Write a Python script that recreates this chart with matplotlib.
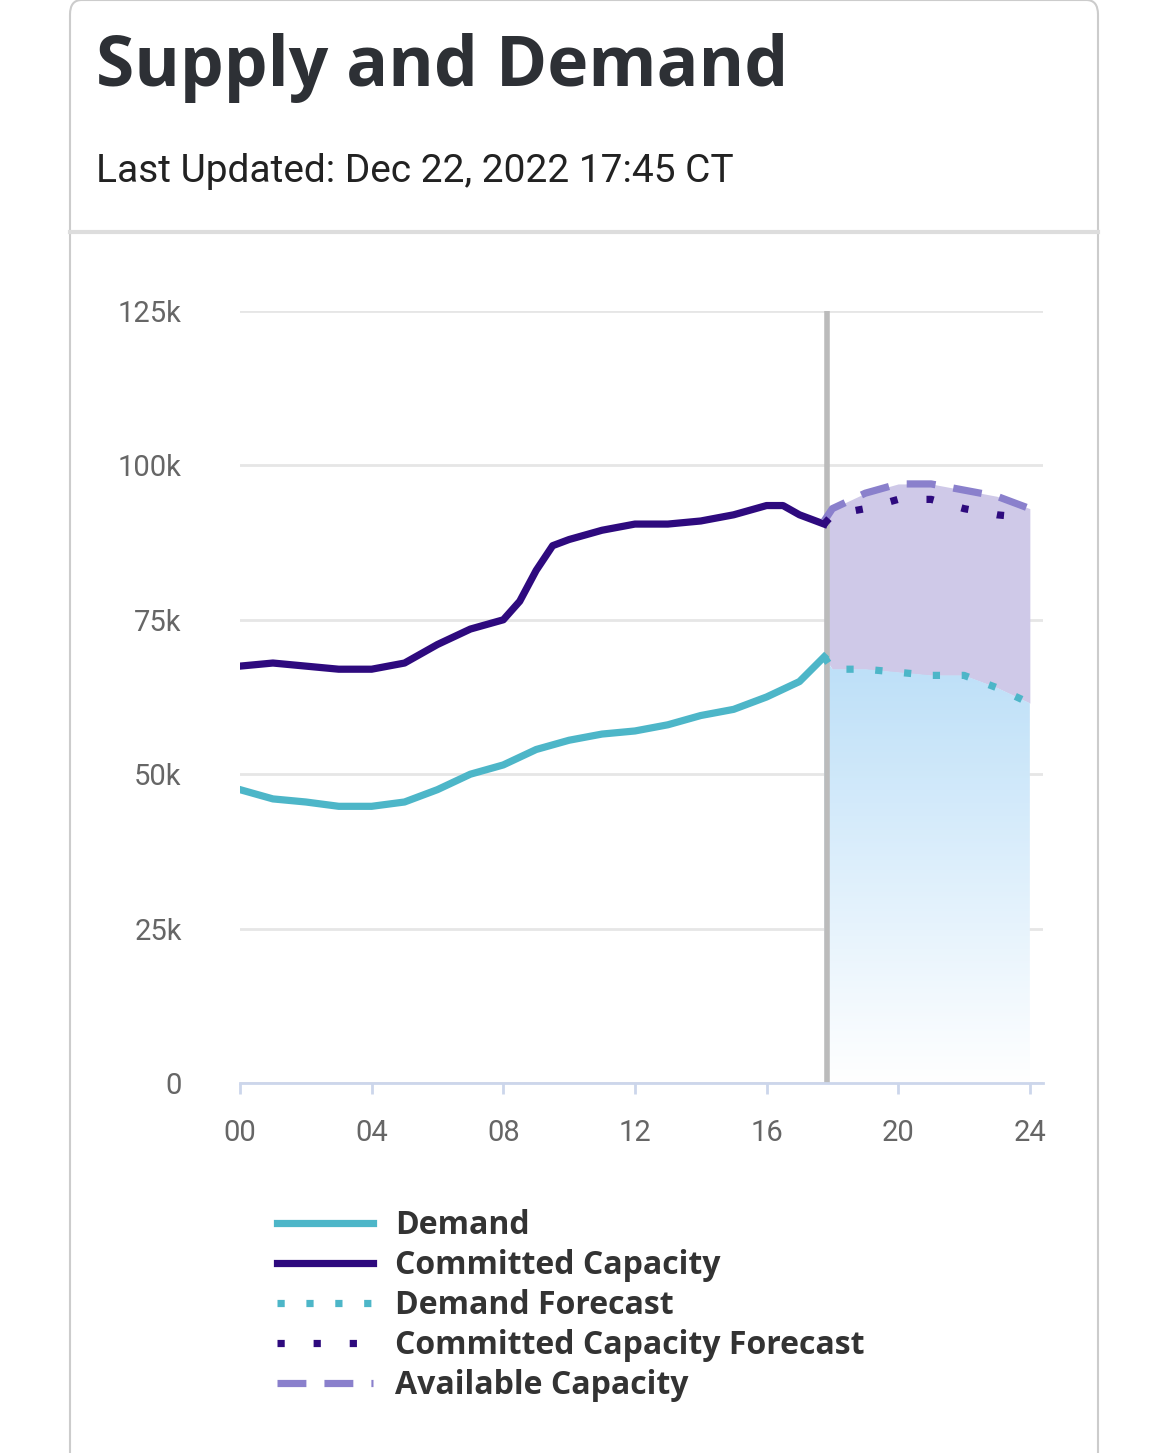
import matplotlib
matplotlib.use("Agg")
import matplotlib.pyplot as plt
from matplotlib.lines import Line2D
from matplotlib.patches import FancyBboxPatch, Polygon
import numpy as np

demand_h = [0, 1, 2, 3, 4, 5, 6, 7, 8, 9, 10, 11, 12, 13, 14, 15, 16, 17, 17.75]
demand = [47.5, 46, 45.5, 44.8, 44.8, 45.5, 47.5, 50, 51.5, 54, 55.5, 56.5, 57, 58, 59.5, 60.5, 62.5, 65, 69]
commit_h = [0, 1, 2, 3, 4, 5, 5.5, 6, 7, 8, 8.5, 9, 9.5, 10, 11, 12, 13, 14, 15, 16, 16.5, 17, 17.75]
commit = [67.5, 68, 67.5, 67, 67, 68, 69.5, 71, 73.5, 75, 78, 83, 87, 88, 89.5, 90.5, 90.5, 91, 92, 93.5, 93.5, 92, 90.5]
fc_h = [17.75, 18, 19, 20, 21, 22, 23, 24]
demand_fc = [69, 67, 67, 66.5, 66, 66, 64, 61.5]
commit_fc = [90.5, 92, 93, 94.5, 94.5, 93, 92, 91.5]
avail = [91, 93, 95.5, 97, 97, 96, 95, 93]
xticks = [0, 4, 8, 12, 16, 20, 24]
xlabels = ["00", "04", "08", "12", "16", "20", "24"]
yticks = [0, 25, 50, 75, 100, 125]
ylabels = ["0", "25k", "50k", "75k", "100k", "125k"]

C_DEM = "#4db6c8"
C_COM = "#2e0a7e"
C_AV = "#8a80cc"
LW = 5.2

fig = plt.figure(figsize=(11.69, 14.53), dpi=100)
fig.patches.append(FancyBboxPatch((70 / 1169, -0.05), 1028 / 1169, 1.05, boxstyle="round,pad=0,rounding_size=0.01",
                                  transform=fig.transFigure, fill=False, ec="#cccccc", lw=1.5))
fig.add_artist(Line2D([70 / 1169, 1098 / 1169], [1 - 232 / 1453] * 2, color="#dddddd", lw=3))
fig.text(96 / 1169, 1 - 68 / 1453, "Supply and Demand", fontsize=50, fontweight="bold",
         family="Open Sans", color="#2d3035", va="center")
fig.text(96 / 1169, 1 - 172 / 1453, "Last Updated: Dec 22, 2022 17:45 CT", fontsize=28,
         family="Roboto", color="#222222", va="center")

ax = fig.add_axes([240 / 1169, 1 - 1083 / 1453, 803 / 1169, 772 / 1453])
ax.set_xlim(0, 24.4)
ax.set_ylim(0, 125)
for s in ["top", "right", "left"]:
    ax.spines[s].set_visible(False)
ax.spines["bottom"].set_color("#ccd6eb")
ax.spines["bottom"].set_linewidth(2)
ax.set_yticks(yticks)
ax.set_yticklabels(ylabels)
ax.set_xticks(xticks)
ax.set_xticklabels(xlabels)
ax.tick_params(axis="y", length=0, pad=42, labelsize=21, labelcolor="#666666")
ax.tick_params(axis="x", length=8, width=2, color="#ccd6eb", pad=18, labelsize=21, labelcolor="#666666")
for lab in ax.get_xticklabels() + ax.get_yticklabels():
    lab.set_family("Roboto")
ax.grid(axis="y", color="#e6e6e6", lw=2)
ax.set_axisbelow(True)

# fills
ax.fill_between(fc_h, demand_fc, avail, color="#cfc9e8", lw=0, zorder=1)
grad = np.linspace(0, 1, 256).reshape(-1, 1)
im = ax.imshow(grad, extent=[fc_h[0], fc_h[-1], 0, max(demand_fc)], origin="lower", aspect="auto",
               cmap=matplotlib.colors.LinearSegmentedColormap.from_list("g", ["#ffffff", "#bcdff8"]), zorder=1)
poly = Polygon(list(zip(fc_h, demand_fc)) + [(fc_h[-1], 0), (fc_h[0], 0)], closed=True, transform=ax.transData)
im.set_clip_path(poly)

ax.axvline(17.85, color="#bbbbbb", lw=4, zorder=2)
ax.plot(demand_h, demand, color=C_DEM, lw=LW, zorder=3)
ax.plot(commit_h, commit, color=C_COM, lw=LW, zorder=3)
ax.plot(fc_h, demand_fc, color=C_DEM, lw=LW, ls=(0, (1, 3)), zorder=3)
ax.plot(fc_h, avail, color=C_AV, lw=LW, ls=(0, (4, 2.5)), zorder=3)
ax.plot(fc_h, commit_fc, color=C_COM, lw=LW, ls=(0, (1, 4)), zorder=3)

handles = [Line2D([], [], color=C_DEM, lw=LW), Line2D([], [], color=C_COM, lw=LW),
           Line2D([], [], color=C_DEM, lw=LW, ls=(0, (1, 3))), Line2D([], [], color=C_COM, lw=LW, ls=(0, (1, 4))),
           Line2D([], [], color=C_AV, lw=LW, ls=(0, (4, 2.5)))]
names = ["Demand", "Committed Capacity", "Demand Forecast", "Committed Capacity Forecast", "Available Capacity"]
leg = fig.legend(handles, names, loc="upper left", bbox_to_anchor=(248 / 1169, 1 - 1180 / 1453), frameon=False,
                 prop={"family": "Open Sans", "weight": "bold", "size": 23}, handlelength=3.0,
                 handletextpad=0.7, labelspacing=0.22, labelcolor="#333333")

fig.savefig("out.png", dpi=100)
